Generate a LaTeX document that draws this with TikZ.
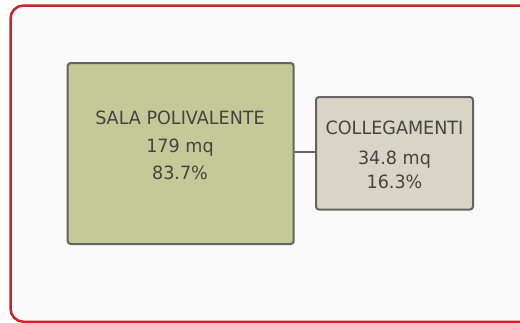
\documentclass[tikz,border=0pt]{standalone}
\usepackage{fontspec}
\setmainfont{DejaVu Sans}[FakeStretch=0.96]
\definecolor{bgc}{RGB}{250,250,250}
\definecolor{framered}{RGB}{205,35,45}
\definecolor{olivefill}{RGB}{197,201,152}
\definecolor{greyfill}{RGB}{216,212,198}
\definecolor{boxline}{RGB}{100,100,98}
\definecolor{txt}{RGB}{68,68,64}
\begin{document}
\begin{tikzpicture}[x=1pt,y=-1pt,
  roombox/.style={draw=boxline,line width=2pt,rounded corners=3pt,inner sep=0pt,anchor=north west},
  lbl/.style={text=txt,font=\fontsize{18.3}{22}\selectfont,anchor=base,inner sep=0pt}]
\useasboundingbox (0,0) rectangle (520,322);
\fill[white] (0,0) rectangle (520,322);
\begin{scope}
\clip (0,0) rectangle (520,322);
\draw[framered,line width=2.5pt,rounded corners=13pt,fill=bgc] (10.5,5.5) rectangle (545,321.8);
\end{scope}
\node[roombox,fill=olivefill,minimum width=226pt,minimum height=181pt] (sala) at (66.7,62) {};
\node[roombox,fill=greyfill,minimum width=157pt,minimum height=112.5pt] (coll) at (315,96) {};
\draw[boxline,line width=2pt] (sala.east |- 0,152.3) coordinate (c1) -- (coll.west |- c1);
\node[lbl] (t1) at (180,124) {SALA POLIVALENTE};
\node[lbl] (t2) at (180,152.7) {179 mq};
\node[lbl] (t3) at (180,179) {83.7\%};
\node[lbl] (t4) at (394.5,134.3) {COLLEGAMENTI};
\node[lbl] (t5) at (394.5,164) {34.8 mq};
\node[lbl] (t6) at (394.5,188.3) {16.3\%};
\end{tikzpicture}
\end{document}
